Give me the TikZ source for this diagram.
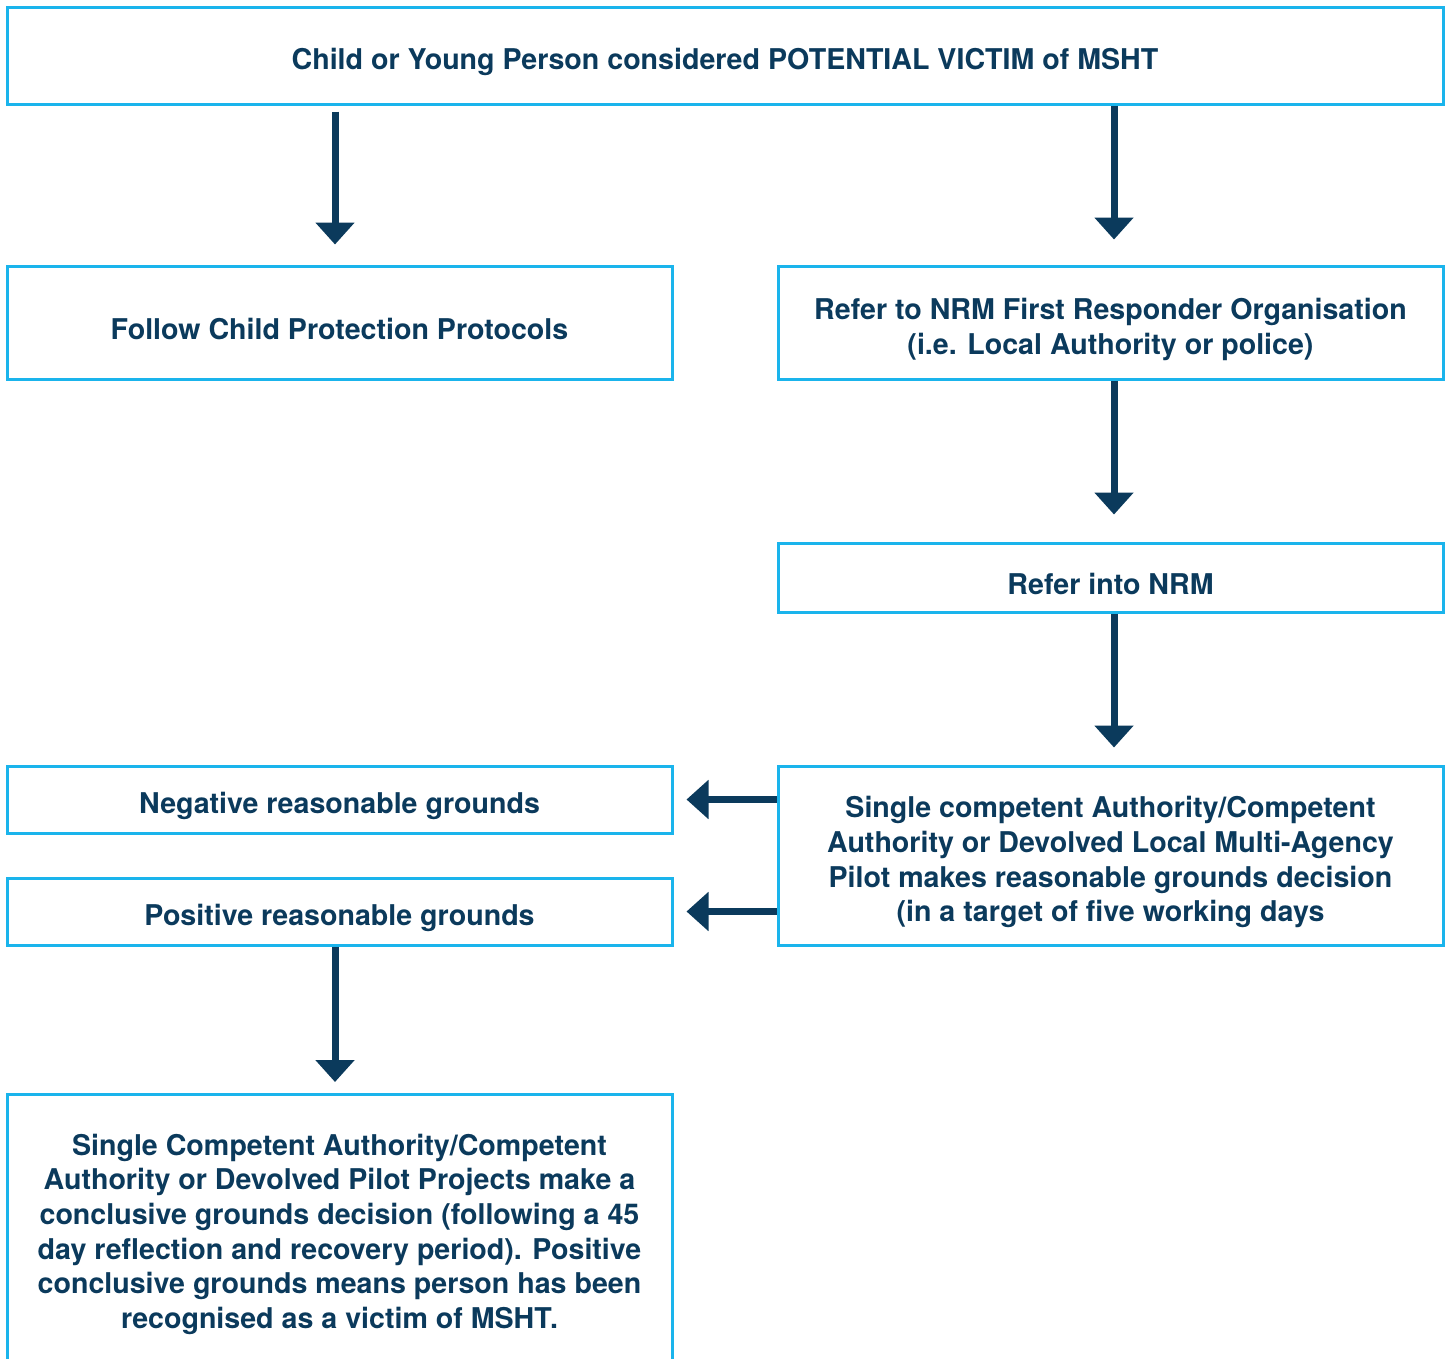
\documentclass[tikz,border=0pt]{standalone}
\usepackage{fontspec}
\setmainfont{TeX Gyre Heros}
\usetikzlibrary{arrows.meta}
\definecolor{boxcyan}{HTML}{1AB4EC}
\definecolor{navy}{HTML}{0B3A5C}
\newcommand\firstst{\rule{0pt}{35pt}}
\tikzset{
  box/.style={draw=boxcyan, line width=3pt, rectangle, align=center, text=navy,
    font=\fontsize{28.6}{34.7}\selectfont\bfseries, inner sep=0pt},
  arr/.style={draw=navy, line width=7pt, -{Triangle[width=38pt,length=22pt]}}
}
\begin{document}
\begin{tikzpicture}[x=1pt,y=-1pt]
\useasboundingbox (0,0) rectangle (1453,1358);
\clip (0,0) rectangle (1453,1358);
\node[box, minimum width=1436pt, minimum height=97pt] (top) at (725,55.5)
  {\firstst Child or Young Person considered POTENTIAL VICTIM of MSHT};
\node[box, minimum width=665pt, minimum height=113pt] (fcp) at (339.5,322.5)
  {\firstst Follow Child Protection Protocols};
\node[box, minimum width=665pt, minimum height=113pt] (frr) at (1110.5,322.5)
  {\firstst Refer to NRM First Responder Organisation\\(i.e. Local Authority or police)};
\node[box, minimum width=665pt, minimum height=69pt] (rin) at (1110.5,577.5)
  {\firstst Refer into NRM};
\node[box, minimum width=665pt, minimum height=179pt] (scd) at (1110.5,855.5)
  {\firstst Single competent Authority/Competent\\Authority or Devolved Local Multi-Agency\\Pilot makes reasonable grounds decision\\(in a target of five working days};
\node[box, minimum width=665pt, minimum height=67pt] (neg) at (339.5,799.5)
  {\firstst Negative reasonable grounds};
\node[box, minimum width=665pt, minimum height=67pt] (pos) at (339.5,911.5)
  {\firstst Positive reasonable grounds};
\node[box, minimum width=665pt, minimum height=266pt, anchor=north] (cgd) at (339.5,1093)
  {\firstst Single Competent Authority/Competent\\Authority or Devolved Pilot Projects make a\\conclusive grounds decision (following a 45\\day reflection and recovery period). Positive\\conclusive grounds means person has been\\recognised as a victim of MSHT.};
% arrows
\draw[arr] ([xshift=-4.5pt,yshift=-6pt]top.south -| fcp.north) -- ([xshift=-4.5pt,yshift=20pt]fcp.north);
\draw[arr] ([xshift=3.5pt]top.south -| frr.north) -- ([xshift=3.5pt,yshift=25pt]frr.north);
\draw[arr] ([xshift=3.5pt]frr.south) -- ([xshift=3.5pt,yshift=27pt]rin.north);
\draw[arr] ([xshift=3.5pt]rin.south) -- ([xshift=3.5pt,yshift=17pt]scd.north);
\draw[arr] (scd.west |- neg.east) -- ([xshift=13pt]neg.east);
\draw[arr] (scd.west |- pos.east) -- ([xshift=13pt]pos.east);
\draw[arr] ([xshift=-4.5pt]pos.south) -- ([xshift=-4.5pt,yshift=11pt]cgd.north);
\end{tikzpicture}
\end{document}
